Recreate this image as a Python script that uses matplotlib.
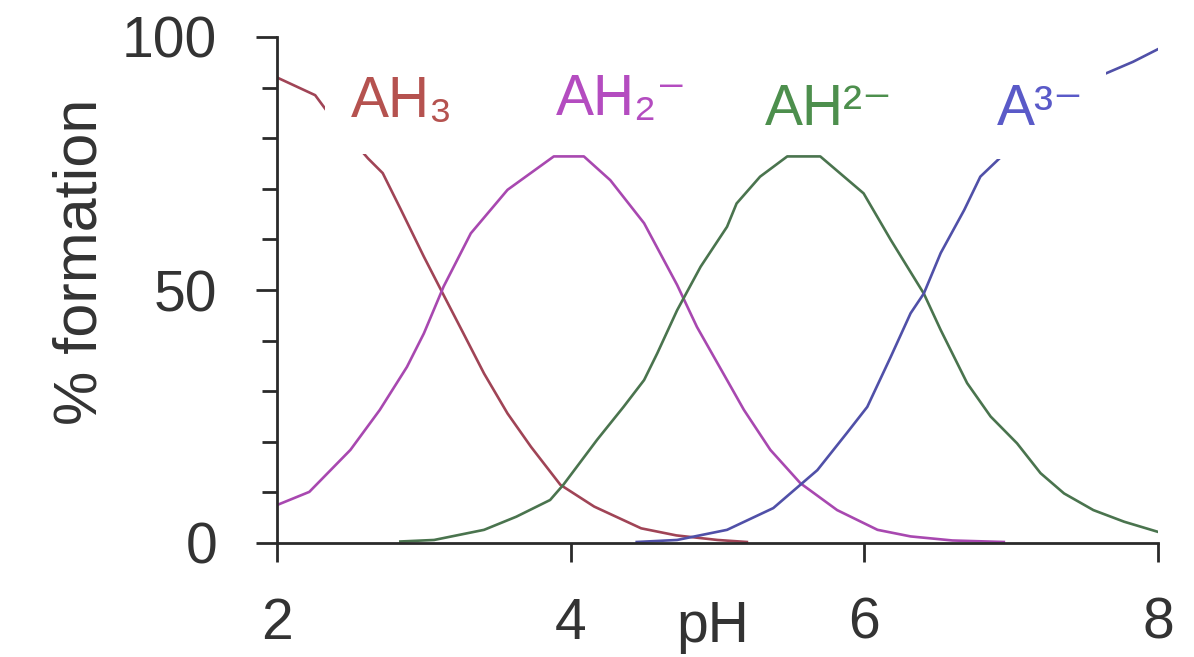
#### Species distribution vs pH ####

import matplotlib.pyplot as plt
from matplotlib.ticker import MultipleLocator

plt.rcParams['font.family'] = ['Liberation Sans', 'DejaVu Sans']

# Values #

ah3_ph = [2.0, 2.26, 2.4, 2.5, 2.62, 2.72, 2.84, 3.0, 3.14, 3.27, 3.41, 3.57, 3.73, 3.93, 4.16, 4.48, 4.72, 5.0, 5.2]
ah3_pct = [92.0, 88.5, 83.0, 80.0, 76.0, 73.1, 66.1, 56.6, 48.7, 41.4, 33.5, 25.6, 19.0, 11.5, 7.2, 2.9, 1.5, 0.6, 0.2]

ah2_ph = [2.0, 2.22, 2.5, 2.7, 2.885, 3.0, 3.135, 3.32, 3.57, 3.885, 4.09, 4.27, 4.5, 4.725, 4.86, 5.065, 5.18, 5.36, 5.565, 5.815, 6.09, 6.315, 6.6, 6.95]
ah2_pct = [7.5, 10.1, 18.4, 26.3, 34.8, 41.4, 50.7, 61.2, 69.8, 76.4, 76.4, 71.7, 63.2, 51.0, 42.7, 32.2, 26.3, 18.4, 11.8, 6.5, 2.6, 1.3, 0.5, 0.2]

ah_ph = [2.84, 3.07, 3.41, 3.63, 3.86, 3.95, 4.18, 4.36, 4.5, 4.59, 4.725, 4.885, 5.065, 5.13, 5.29, 5.475, 5.70, 5.995, 6.18, 6.405, 6.52, 6.70, 6.86, 7.04, 7.20, 7.36, 7.56, 7.77, 8.0]
ah_pct = [0.3, 0.6, 2.6, 5.2, 8.5, 11.5, 20.4, 26.9, 32.2, 37.5, 46.0, 54.6, 62.5, 67.1, 72.4, 76.4, 76.4, 69.1, 59.9, 49.3, 42.1, 31.6, 25.0, 19.7, 13.8, 9.8, 6.5, 4.2, 2.2]

a_ph = [4.45, 4.725, 5.065, 5.38, 5.68, 5.88, 6.02, 6.18, 6.315, 6.405, 6.52, 6.68, 6.79, 6.92, 7.2, 7.5, 7.83, 8.0]
a_pct = [0.2, 0.6, 2.6, 6.9, 14.4, 21.7, 26.9, 36.8, 45.4, 49.3, 57.3, 65.8, 72.4, 76.0, 85.0, 91.0, 95.1, 97.6]

x_ticks = [2, 4, 6, 8]
y_ticks = [0, 50, 100]

# Plot #

fig = plt.figure(figsize=(11.94, 6.57), dpi=100)
ax = fig.add_axes([277/1194, 1-543/657, 881/1194, 506/657])

ax.plot(ah3_ph, ah3_pct, color='#a04456', lw=1.9)
ax.plot(ah2_ph, ah2_pct, color='#a848b0', lw=1.9)
ax.plot(ah_ph, ah_pct, color='#4a744e', lw=1.9)
ax.plot(a_ph, a_pct, color='#5050a8', lw=1.9)

# species labels (white box hides the curve behind them, like the original)
ax.text(2.5, 84.2, 'AH₃', color='#b5524f', fontsize=41, va='baseline', zorder=5,
        bbox=dict(facecolor='white', edgecolor='none', pad=18))
ax.text(3.9, 84.6, 'AH₂⁻', color='#b44cc0', fontsize=41, va='baseline', zorder=5)
ax.text(5.32, 82.6, 'AH²⁻', color='#4d8f4d', fontsize=41, va='baseline', zorder=5)
ax.text(7.2, 82.6, 'A³⁻', color='#5a5ac8', fontsize=41, ha='center', va='baseline', zorder=5,
        bbox=dict(facecolor='white', edgecolor='none', pad=16))

ax.set_xlim(2, 8)
ax.set_ylim(0, 100)
ax.set_xticks(x_ticks)
ax.set_yticks(y_ticks)
ax.yaxis.set_minor_locator(MultipleLocator(10))

for s in ['top', 'right']:
    ax.spines[s].set_visible(False)
for s in ['left', 'bottom']:
    ax.spines[s].set_color('#2a2a2a')
    ax.spines[s].set_linewidth(2.0)

ax.tick_params(axis='x', which='major', length=13.7, width=2.0, pad=25, labelsize=41,
               color='#2a2a2a', labelcolor='#333333')
ax.tick_params(axis='y', which='major', length=15, width=2.0, pad=28, labelsize=41,
               color='#2a2a2a', labelcolor='#333333')
ax.tick_params(axis='y', which='minor', length=11, width=2.0, color='#2a2a2a')

ax.set_xlabel('pH', fontsize=41, color='#333333')
ax.xaxis.set_label_coords(0.495, -0.112)
ax.set_ylabel('% formation', fontsize=44, color='#333333')
ax.yaxis.set_label_coords(-0.19, 0.555)

fig.savefig('out.png', dpi=100)
